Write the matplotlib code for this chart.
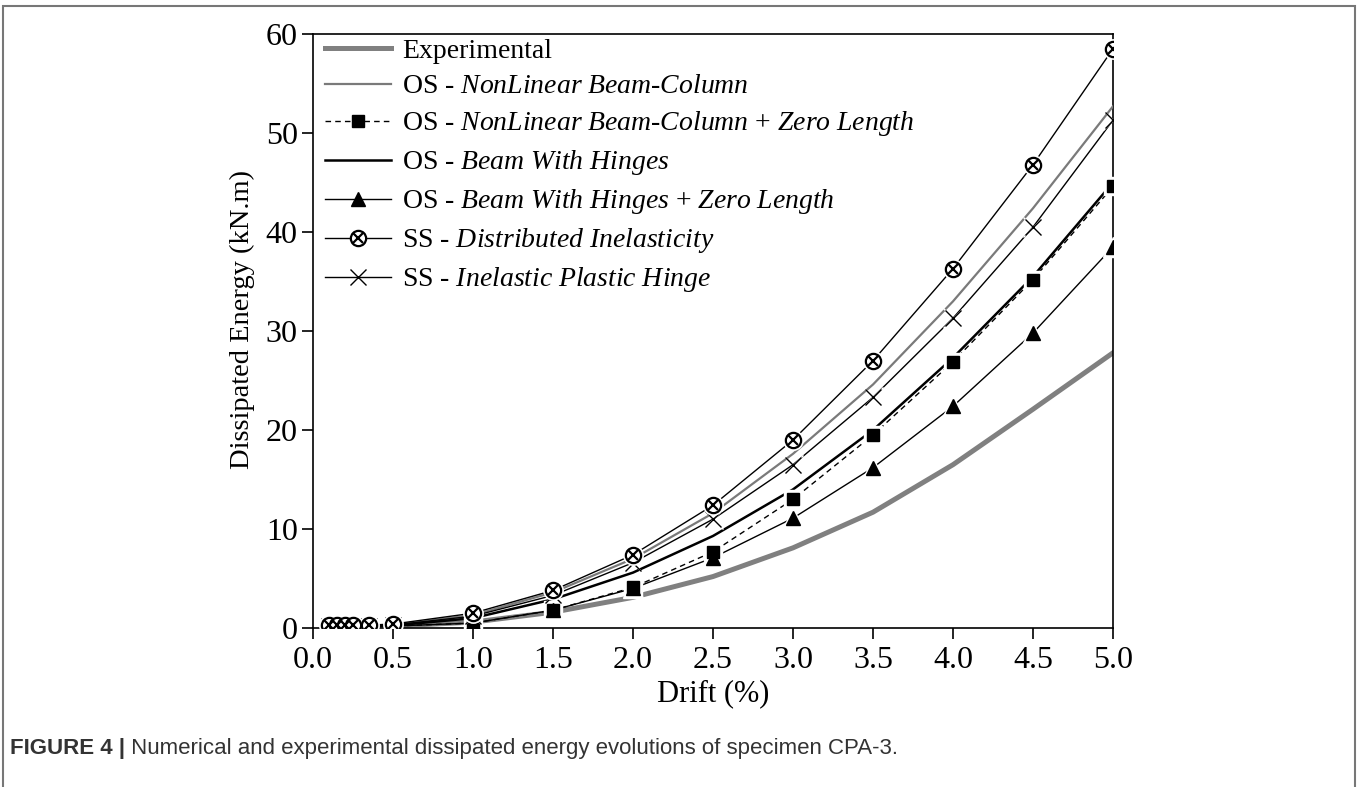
import matplotlib
matplotlib.use('Agg')
import matplotlib.pyplot as plt
from matplotlib.lines import Line2D
from matplotlib.legend_handler import HandlerTuple
from matplotlib.patches import Rectangle

plt.rcParams['font.family'] = 'Liberation Serif'
plt.rcParams['mathtext.fontset'] = 'custom'
plt.rcParams['mathtext.rm'] = 'Liberation Serif'
plt.rcParams['mathtext.it'] = 'Liberation Serif:italic'

# drift levels (%)
drift = [0.1, 0.15, 0.2, 0.25, 0.35, 0.5, 1.0, 1.5, 2.0, 2.5, 3.0, 3.5, 4.0, 4.5, 5.0]

# dissipated energy (kN.m)
experimental = [0.05, 0.05, 0.05, 0.05, 0.05, 0.2, 0.6, 1.6, 3.1, 5.2, 8.1, 11.7, 16.5, 22.1, 27.8]
os_nlbc = [0.2, 0.2, 0.2, 0.2, 0.2, 0.3, 1.3, 3.6, 7.0, 11.6, 17.6, 24.6, 33.0, 42.4, 52.7]
os_nlbc_zl = [0.15, 0.15, 0.15, 0.15, 0.15, 0.2, 0.5, 1.8, 4.1, 7.7, 13.0, 19.5, 26.9, 35.2, 44.6]
os_bwh = [0.2, 0.2, 0.2, 0.2, 0.2, 0.25, 1.0, 2.9, 5.6, 9.3, 14.0, 20.0, 27.3, 35.5, 45.0]
os_bwh_zl = [0.15, 0.15, 0.15, 0.15, 0.15, 0.2, 0.5, 1.8, 4.0, 7.1, 11.1, 16.2, 22.4, 29.8, 38.5]
ss_di = [0.3, 0.3, 0.3, 0.3, 0.3, 0.4, 1.5, 3.8, 7.4, 12.4, 19.0, 27.0, 36.3, 46.8, 58.5]
ss_iph = [0.2, 0.2, 0.2, 0.2, 0.2, 0.3, 1.2, 3.3, 6.6, 11.0, 16.5, 23.3, 31.3, 40.5, 51.3]

fig = plt.figure(figsize=(13.57, 7.87), dpi=100)
ax = fig.add_axes([0.2307, 0.2020, 0.5895, 0.7548])

# outer frame of the figure panel
fig.patches.append(Rectangle((3 / 1357, -0.05), 1352 / 1357, 1.05 - 6 / 787,
                             transform=fig.transFigure, fill=False,
                             edgecolor='#777777', linewidth=1.5))


def marked(y, mk, ms, ls='-', lw=1.0, z=3):
    ax.plot(drift, y, color='black', ls=ls, lw=lw, zorder=z)
    ax.plot(drift, y, ls='none', marker=mk, ms=ms + 4, color='white', zorder=z + 0.1)
    ax.plot(drift, y, ls='none', marker=mk, ms=ms, color='black', zorder=z + 0.2)


ax.plot(drift, experimental, color='#808080', lw=3.6, zorder=2)
ax.plot(drift, os_nlbc, color='#7a7a7a', lw=1.6, zorder=3)
ax.plot(drift, os_bwh, color='black', lw=1.8, zorder=3)
marked(os_nlbc_zl, 's', 9, ls=(0, (4, 3)), lw=1.0, z=4)
marked(os_bwh_zl, '^', 10, z=4)
marked(ss_iph, 'x', 11, z=5)
ax.plot(drift, ss_di, color='black', lw=1.0, zorder=6)
ax.plot(drift, ss_di, ls='none', marker='o', ms=14, color='white', zorder=6.1)
ax.plot(drift, ss_di, ls='none', marker='o', ms=11, mfc='white', mec='black', mew=1.6, zorder=6.2)
ax.plot(drift, ss_di, ls='none', marker='x', ms=7.5, mec='black', mew=1.6, zorder=6.3)

ax.set_xlim(0, 5)
ax.set_ylim(0, 60)
ax.set_xticks([0, 0.5, 1, 1.5, 2, 2.5, 3, 3.5, 4, 4.5, 5])
ax.set_xticklabels(['0.0', '0.5', '1.0', '1.5', '2.0', '2.5', '3.0', '3.5', '4.0', '4.5', '5.0'])
ax.set_yticks([0, 10, 20, 30, 40, 50, 60])
ax.tick_params(direction='out', length=8, width=1.2, labelsize=23)
ax.tick_params(axis='x', pad=5)
ax.tick_params(axis='y', pad=3)
for s in ax.spines.values():
    s.set_linewidth(1.2)
ax.set_xlabel('Drift (%)', fontsize=22, labelpad=3)
ax.set_ylabel('Dissipated Energy (kN.m)', fontsize=20.5)
ax.yaxis.set_label_coords(-0.073, 0.52)

handles = [
    Line2D([], [], color='#808080', lw=3.6),
    Line2D([], [], color='#7a7a7a', lw=1.6),
    Line2D([], [], color='black', lw=1.0, ls=(0, (4, 3)), marker='s', ms=9),
    Line2D([], [], color='black', lw=1.8),
    Line2D([], [], color='black', lw=1.0, marker='^', ms=10),
    (Line2D([], [], color='black', lw=1.0, marker='o', ms=11, mfc='white', mew=1.6),
     Line2D([], [], ls='none', marker='x', ms=7.5, mec='black', mew=1.6)),
    Line2D([], [], color='black', lw=1.0, marker='x', ms=11),
]
labels = [
    'Experimental',
    r'OS - $\mathit{NonLinear\ Beam}$-$\mathit{Column}$',
    r'OS - $\mathit{NonLinear\ Beam}$-$\mathit{Column}$ + $\mathit{Zero\ Length}$',
    r'OS - $\mathit{Beam\ With\ Hinges}$',
    r'OS - $\mathit{Beam\ With\ Hinges}$ + $\mathit{Zero\ Length}$',
    r'SS - $\mathit{Distributed\ Inelasticity}$',
    r'SS - $\mathit{Inelastic\ Plastic\ Hinge}$',
]
ax.legend(handles, labels, loc='upper left', bbox_to_anchor=(-0.01, 1.025), frameon=False,
          fontsize=20, numpoints=1, handlelength=2.4, handletextpad=0.4,
          labelspacing=0.36, borderaxespad=0.3,
          handler_map={tuple: HandlerTuple(ndivide=1)})

t1 = fig.text(10 / 1357, 1 - 754 / 787, 'FIGURE 4 |', fontsize=16, fontweight='bold',
              family='Liberation Sans', color='#333333')
ax.annotate(' Numerical and experimental dissipated energy evolutions of specimen CPA-3.',
            xy=(1, 0), xycoords=t1, va='bottom', fontsize=16,
            family='Liberation Sans', color='#333333', annotation_clip=False)

fig.savefig('out.png', dpi=100)
